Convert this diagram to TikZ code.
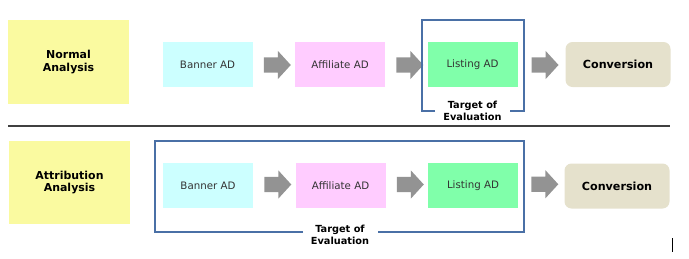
\documentclass[tikz,border=0pt]{standalone}
\usepackage{fontspec}
\setmainfont{DejaVu Sans}
\usetikzlibrary{shapes.arrows,calc}
\definecolor{ylw}{HTML}{FAFAA0}
\definecolor{cyn}{HTML}{CCFFFF}
\definecolor{pnk}{HTML}{FFCCFF}
\definecolor{grn}{HTML}{80FFAA}
\definecolor{cnv}{HTML}{E5E1CC}
\definecolor{frm}{HTML}{4A70A6}
\definecolor{agray}{HTML}{939393}
\definecolor{txt}{HTML}{333333}
\begin{document}
\begin{tikzpicture}[x=1bp,y=-1bp,
  catbox/.style={fill=ylw,draw=none,minimum width=121bp,minimum height=84bp,inner sep=0pt,
    font=\fontsize{11}{13}\selectfont\bfseries,align=center},
  adbox/.style={draw=none,minimum width=90bp,minimum height=45bp,inner sep=0pt,
    font=\fontsize{10.3}{12}\selectfont,text=txt},
  convbox/.style={fill=cnv,draw=none,rounded corners=7bp,minimum width=105bp,minimum height=45bp,
    inner sep=0pt,font=\fontsize{11.2}{13}\selectfont\bfseries},
  garrow/.style={single arrow,fill=agray,draw=none,minimum height=27bp,minimum width=28bp,
    inner xsep=0pt,inner ysep=7.5bp,single arrow head extend=6.5bp,single arrow tip angle=95},
  tgt/.style={font=\fontsize{9.8}{12}\selectfont\bfseries,align=center,inner sep=0pt},
  frame/.style={draw=frm,line width=1.5bp}
]
\useasboundingbox (0,0) rectangle (689,258);

% top row
\node[catbox] (na) at (68.5,62) {Normal\\Analysis};
\node[adbox,fill=cyn] (b1) at (207.5,64.5) {Banner AD};
\node[adbox,fill=pnk] (f1) at (340,64.5) {Affiliate AD};
\node[adbox,fill=grn] (l1) at (472.5,64.5) {Listing AD};
\node[convbox] (c1) at (618,64.5) {Conversion};
\node[garrow] (a11) at ($(b1.east)!0.5!(f1.west)+(0,0.5)$) {};
\node[garrow] (a12) at ($(f1.east)!0.5!(l1.west)+(0,0.5)$) {};
\node[garrow] (a13) at ($(l1.east)!0.5!(c1.west)+(0,0.5)$) {};
\node[tgt] (t1) at (472.5,111) {Target of\\Evaluation};
\draw[frame] (435,111) -- (422,111) -- (422,20) -- (524,20) -- (524,111) -- (510,111);

% separator
\draw[line width=1.6bp,draw=black!75] (8,126) -- (670,126);

% bottom row
\node[catbox,minimum height=83bp] (aa) at (69.5,182.5) {Attribution\\Analysis};
\node[adbox,fill=cyn] (b2) at (208,185.5) {Banner AD};
\node[adbox,fill=pnk] (f2) at (340.5,185.5) {Affiliate AD};
\node[adbox,fill=grn] (l2) at (473,185.5) {Listing AD};
\node[convbox] (c2) at (617,186) {Conversion};
\node[garrow] (a21) at ($(b2.east)!0.5!(f2.west)+(0,-1)$) {};
\node[garrow] (a22) at ($(f2.east)!0.5!(l2.west)+(0,-1)$) {};
\node[garrow] (a23) at ($(l2.east)!0.5!(c2.west)+(0,-1.5)$) {};
\node[tgt] (t2) at (340,234.5) {Target of\\Evaluation};
\draw[frame] (303,232) -- (155,232) -- (155,141) -- (524,141) -- (524,232) -- (378,232);

% small mark
\draw[line width=1bp] (672,238) -- (672,252);
\end{tikzpicture}
\end{document}
